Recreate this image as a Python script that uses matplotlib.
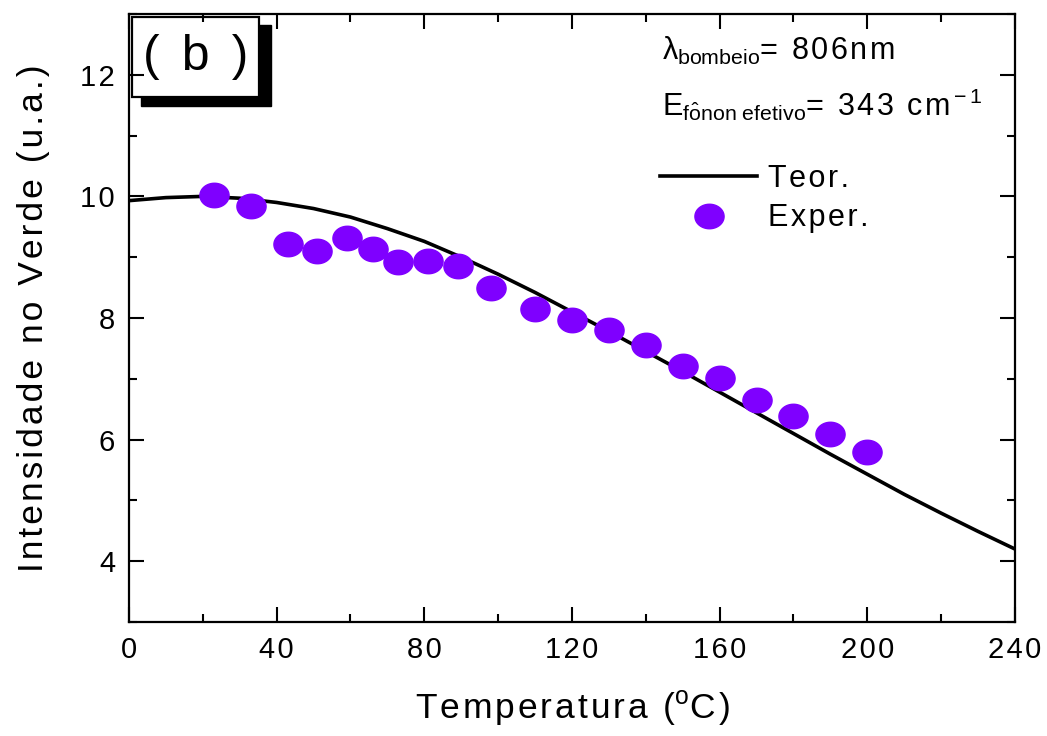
import matplotlib
matplotlib.use("Agg")
import matplotlib.pyplot as plt
import numpy as np
from matplotlib.path import Path
from matplotlib.patches import Rectangle
from matplotlib.ticker import MultipleLocator, FuncFormatter

plt.rcParams['font.family'] = ['Liberation Sans', 'DejaVu Sans']
plt.rcParams['mathtext.fontset'] = 'custom'
plt.rcParams['mathtext.rm'] = 'Liberation Sans'
plt.rcParams['mathtext.it'] = 'Liberation Sans'

# experimental points
temp_exp = [23, 33, 43, 51, 59, 66, 73, 81, 89, 98, 110, 120, 130, 140,
            150, 160, 170, 180, 190, 200]
int_exp = [10.02, 9.85, 9.22, 9.10, 9.31, 9.13, 8.92, 8.94, 8.86, 8.50,
           8.15, 7.96, 7.81, 7.56, 7.21, 7.01, 6.65, 6.39, 6.09, 5.80]

# theoretical curve
temp_teo = [0, 10, 20, 30, 40, 50, 60, 70, 80, 90, 100, 110, 120, 130,
            140, 150, 160, 170, 180, 190, 200, 210, 220, 230, 240]
int_teo = [9.93, 9.98, 10.0, 9.97, 9.90, 9.80, 9.66, 9.47, 9.26, 9.00,
           8.72, 8.42, 8.10, 7.78, 7.45, 7.12, 6.78, 6.44, 6.10, 5.76,
           5.43, 5.10, 4.79, 4.49, 4.20]

roxo = '#7f00ff'
HS = '\u200a'  # hair space, the original text is letter-spaced


def esp(s):
    return HS.join(s)


# elliptic marker (a bit wider than tall)
t = np.linspace(0, 2 * np.pi, 60)
elipse = Path(np.column_stack([np.cos(t), 0.84 * np.sin(t)]), closed=True)

fig = plt.figure(figsize=(10.47, 7.36), dpi=100)
ax = fig.add_axes([0.1232, 0.1549, 0.8462, 0.8261])

ax.plot(temp_teo, int_teo, color='black', lw=2.6, label=esp('Teor.'))
ax.plot(temp_exp, int_exp, ls='none', marker=elipse, ms=21, color=roxo,
        mec=roxo, label=esp('Exper.'))

ax.set_xlim(0, 240)
ax.set_ylim(3, 13)
ax.xaxis.set_major_locator(MultipleLocator(40))
ax.xaxis.set_minor_locator(MultipleLocator(20))
ax.yaxis.set_minor_locator(MultipleLocator(1))
ax.set_yticks([4, 6, 8, 10, 12])
fmt = FuncFormatter(lambda v, p: esp('%d' % v))
ax.xaxis.set_major_formatter(fmt)
ax.yaxis.set_major_formatter(fmt)
ax.tick_params(which='both', direction='in', top=True, right=True,
               width=1.5, labelsize=21)
ax.tick_params(which='major', length=11, pad=10)
ax.tick_params(which='minor', length=6)
for s in ax.spines.values():
    s.set_linewidth(1.6)

ax.set_xlabel(esp('Temperatura (') + r'$^{\rm o}$' + esp('C)'),
              fontsize=25.5, labelpad=18)
ax.set_ylabel(esp('Intensidade no Verde (u.a.)'), fontsize=25.5, labelpad=22)

ax.legend(loc='upper left', bbox_to_anchor=(0.599, 0.753), frameon=False,
          fontsize=22, handlelength=3.2, handletextpad=0.36,
          labelspacing=0.3, borderpad=0, borderaxespad=0)

ax.text(0.602, 0.965, r'$\lambda_{\rm bombeio}$' + esp('= 806nm'),
        transform=ax.transAxes, fontsize=22, va='top')
ax.text(0.602, 0.88, r'E$_{\rm f\^onon\ efetivo}$' + esp('= 343 cm')
        + r'$^{\rm -1}$', transform=ax.transAxes, fontsize=22, va='top')

# "(b)" box with shadow
ax.add_patch(Rectangle((0.0135, 0.8487), 0.1467, 0.133, transform=ax.transAxes,
                       facecolor='black', edgecolor='black', clip_on=False))
ax.add_patch(Rectangle((0.0034, 0.8635), 0.143, 0.1316, transform=ax.transAxes,
                       facecolor='white', edgecolor='black', lw=1.6,
                       clip_on=False))
ax.text(0.0756, 0.929, esp('( b )'), transform=ax.transAxes, fontsize=36,
        ha='center', va='center')

fig.savefig('out.png', dpi=100)
